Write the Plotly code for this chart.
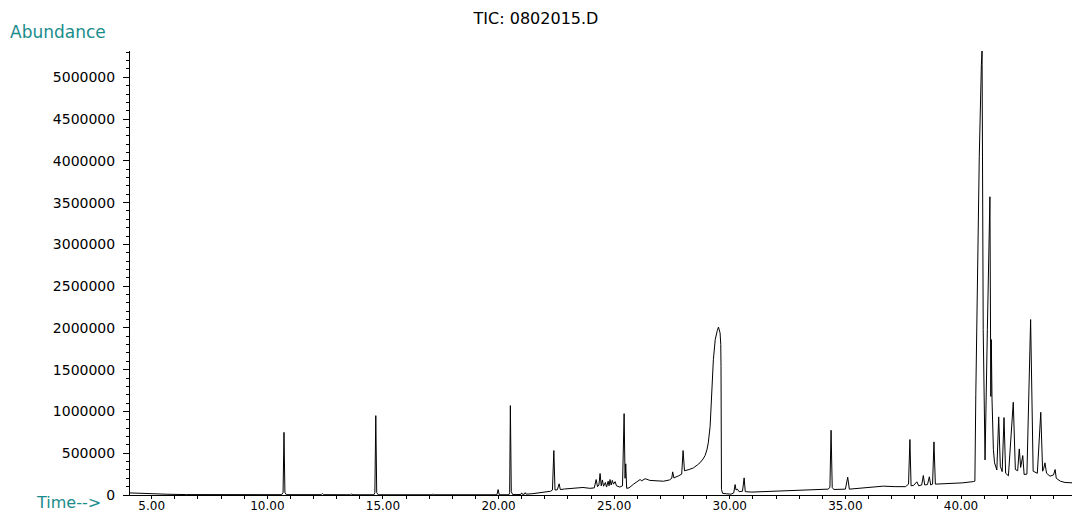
import plotly.graph_objects as go

# Total ion chromatogram: retention time (min) vs. abundance
rt_min = [
    4.06, 4.40, 4.80, 5.20, 5.70, 6.50, 8.00, 10.62, 10.68, 10.72, 10.76, 10.82,
    12.33, 12.38, 12.43, 13.60, 13.65, 13.70, 14.61, 14.65, 14.69, 14.73, 14.79,
    17.13, 17.17, 17.21, 19.93, 19.98, 20.03, 20.45, 20.48, 20.51, 20.55, 20.61,
    20.96, 21.00, 21.04, 21.11, 21.15, 21.19, 21.45, 21.85, 22.25, 22.33, 22.39,
    22.44, 22.54, 22.62, 22.67, 22.85, 23.25, 23.65, 23.95, 24.14, 24.22, 24.28,
    24.34, 24.39, 24.44, 24.49, 24.54, 24.62, 24.67, 24.74, 24.78, 24.82, 24.87,
    24.92, 24.97, 25.04, 25.10, 25.24, 25.36, 25.43, 25.47, 25.50, 25.54, 25.64,
    25.84, 26.12, 26.19, 26.34, 26.54, 26.84, 27.13, 27.39, 27.49, 27.53, 27.58,
    27.79, 27.92, 27.98, 28.04, 28.24, 28.43, 28.60, 28.71, 28.84, 28.93, 29.01,
    29.07, 29.15, 29.22, 29.29, 29.37, 29.42, 29.46, 29.51, 29.55, 29.58, 29.61,
    29.62, 29.64, 29.69, 29.85, 30.05, 30.17, 30.23, 30.27, 30.33, 30.40, 30.55,
    30.62, 30.67, 30.95, 31.55, 32.32, 33.05, 33.76, 34.25, 34.33, 34.38, 34.43,
    34.50, 35.00, 35.10, 35.17, 35.65, 36.05, 36.64, 37.15, 37.60, 37.73, 37.79,
    37.84, 37.95, 38.09, 38.17, 38.30, 38.37, 38.43, 38.55, 38.63, 38.69, 38.77,
    38.83, 38.89, 39.25, 39.65, 40.05, 40.53, 40.60, 40.64, 40.68, 40.79, 40.88,
    40.91, 40.96, 41.04, 41.14, 41.25, 41.29, 41.31, 41.34, 41.40, 41.45, 41.55,
    41.63, 41.70, 41.78, 41.86, 41.93, 42.05, 42.26, 42.35, 42.45, 42.52, 42.58,
    42.67, 42.73, 42.85, 43.01, 43.12, 43.30, 43.45, 43.53, 43.58, 43.63, 43.70,
    43.85, 44.00, 44.07, 44.12, 44.30, 44.50, 44.80,
]
abundance = [
    25000, 20000, 17000, 14000, 9000, 5000, 4000, 4000, 30000, 750000, 30000, 4000,
    4000, 18000, 4000, 3000, 12000, 3000, 3000, 30000, 950000, 30000, 3000,
    3000, 14000, 3000, 3000, 65000, 3000, 3000, 30000, 1070000, 40000, 5000,
    6000, 25000, 8000, 8000, 28000, 10000, 15000, 26000, 45000, 60000, 532000,
    60000, 62000, 134000, 65000, 72000, 78000, 90000, 80000, 85000, 185000, 100000,
    120000, 257000, 110000, 180000, 105000, 150000, 95000, 165000, 110000, 185000, 120000,
    175000, 130000, 160000, 110000, 95000, 110000, 974000, 200000, 373000, 80000, 85000,
    130000, 185000, 170000, 195000, 175000, 170000, 165000, 180000, 200000, 277000, 205000,
    230000, 250000, 532000, 290000, 305000, 325000, 360000, 385000, 430000, 472000, 540000,
    624000, 823000, 1220000, 1620000, 1860000, 1950000, 1970000, 2010000, 1960000, 1940000, 1800000,
    1540000, 66000, 20000, 15000, 10000, 25000, 125000, 60000, 70000, 40000, 45000,
    205000, 40000, 35000, 40000, 46000, 55000, 66000, 70000, 90000, 775000, 90000,
    66000, 70000, 213000, 70000, 80000, 85000, 106000, 100000, 100000, 130000, 664000,
    110000, 115000, 158000, 110000, 120000, 233000, 120000, 125000, 218000, 120000, 130000,
    636000, 130000, 134000, 140000, 145000, 160000, 165000, 1200000, 1980000, 4050000, 5150000,
    5320000, 1980000, 420000, 1980000, 3570000, 1180000, 1860000, 1150000, 544000, 385000, 300000,
    935000, 344000, 280000, 927000, 260000, 230000, 1110000, 305000, 290000, 552000, 330000,
    472000, 245000, 250000, 2100000, 285000, 260000, 990000, 285000, 320000, 385000, 260000,
    225000, 240000, 305000, 200000, 165000, 150000, 146000,
]

x_tick_vals = [5, 10, 15, 20, 25, 30, 35, 40]
y_tick_vals = [0, 500000, 1000000, 1500000, 2000000, 2500000,
               3000000, 3500000, 4000000, 4500000, 5000000]

FONT = "DejaVu Sans"
TEAL = "#1a8c8c"

fig = go.Figure(
    go.Scatter(
        x=rt_min, y=abundance, mode="lines",
        line=dict(color="black", width=1),
        hoverinfo="skip",
    )
)

fig.update_layout(
    width=1072, height=513,
    margin=dict(l=130, r=0, t=51, b=18),
    paper_bgcolor="white", plot_bgcolor="white",
    showlegend=False,
    title=dict(
        text="TIC: 0802015.D", x=0.5, xref="container", xanchor="center",
        y=1 - 18 / 513, yref="container", yanchor="middle",
        font=dict(family=FONT, size=16, color="black"),
    ),
    font=dict(family=FONT, size=14, color="black"),
)

fig.update_xaxes(
    range=[4.06, 44.80], automargin=False,
    tickmode="array", tickvals=x_tick_vals,
    ticktext=[f"{v:.2f}" for v in x_tick_vals],
    ticks="outside", ticklen=3, tickwidth=1, tickcolor="black",
    minor=dict(tickmode="linear", tick0=0, dtick=1, ticks="outside",
               ticklen=3, tickcolor="black", showgrid=False),
    showline=True, linecolor="black", linewidth=1,
    showgrid=False, zeroline=False,
    ticklabelstandoff=-3,
    tickfont=dict(family=FONT, size=12, color="black"),
)

fig.update_yaxes(
    range=[0, 5.315e6], automargin=False,
    tickmode="array", tickvals=y_tick_vals,
    ticktext=[str(v) for v in y_tick_vals],
    ticks="outside", ticklen=6, tickwidth=1, tickcolor="black",
    minor=dict(tickmode="linear", tick0=0, dtick=100000, ticks="outside",
               ticklen=3, tickcolor="black", showgrid=False),
    showline=True, linecolor="black", linewidth=1,
    showgrid=False, zeroline=False,
    ticklabelstandoff=5,
    tickfont=dict(family=FONT, size=14, color="black"),
)

fig.add_annotation(
    text="Abundance", xref="paper", yref="paper",
    x=-130 / 942 + 8 / 942, y=1 + (51 - 32) / 444,
    xanchor="left", yanchor="middle", showarrow=False,
    font=dict(family=FONT, size=17, color=TEAL),
)
fig.add_annotation(
    text="Time-->", xref="paper", yref="paper",
    x=-130 / 942 + 34 / 942, y=-(502 - 495) / 444,
    xanchor="left", yanchor="middle", showarrow=False,
    font=dict(family=FONT, size=16, color=TEAL),
)

fig.write_html("out.html")
